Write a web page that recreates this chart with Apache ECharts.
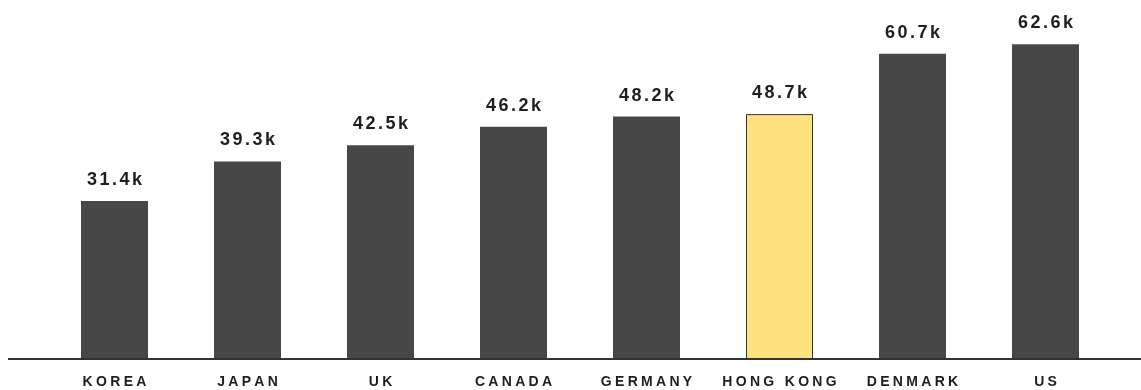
<!DOCTYPE html>
<html>
<head>
<meta charset="utf-8">
<script src="https://cdn.jsdelivr.net/npm/echarts@6/dist/echarts.min.js"></script>
<style>html,body{margin:0;padding:0;background:#fff}#c{width:1141px;height:390px}</style>
</head>
<body>
<div id="c"></div>
<script>
const categories = ['KOREA','JAPAN','UK','CANADA','GERMANY','HONG KONG','DENMARK','US'];
const values = [31.4, 39.3, 42.5, 46.2, 48.2, 48.7, 60.7, 62.6];
const highlight = 'HONG KONG';

function spaced(str, ctag, stag) {
  return str.split('').map(ch => '{' + ctag + '|' + ch + '}').join('{' + stag + '| }');
}

const chart = echarts.init(document.getElementById('c'), null, {renderer: 'canvas'});
const font = '"Liberation Sans", Arial, Helvetica, sans-serif';
chart.setOption({
  animation: false,
  grid: {left: 48, right: 29, top: 7, bottom: 31},
  xAxis: {
    type: 'category',
    data: categories,
    axisLine: {show: false},
    axisTick: {show: false},
    axisLabel: {
      interval: 0,
      margin: 16,
      formatter: v => spaced(v, 'c', 's'),
      rich: {
        c: {fontSize: 14, fontWeight: 'bold', color: '#1e1e1e', fontFamily: font},
        s: {fontSize: 14, width: 3.3, fontFamily: font}
      }
    }
  },
  yAxis: {type: 'value', min: 0, max: 70, show: false, splitLine: {show: false}},
  series: [{
    type: 'bar',
    barWidth: 67,
    data: values.map((v, i) => ({
      value: v,
      itemStyle: categories[i] === highlight
        ? {color: '#FEE27F', borderColor: '#333', borderWidth: 1}
        : {color: '#474748'}
    })),
    label: {
      show: true,
      position: 'top',
      distance: 12,
      formatter: p => spaced(p.value.toFixed(1) + 'k', 'c', 's'),
      rich: {
        c: {fontSize: 18, fontWeight: 'bold', color: '#1e1e1e', fontFamily: font},
        s: {fontSize: 18, width: 2.5, fontFamily: font}
      }
    }
  }]
});
const y0 = chart.convertToPixel({yAxisIndex: 0}, 0);
chart.setOption({
  graphic: [{
    type: 'line',
    shape: {x1: 8, y1: y0, x2: 1141, y2: y0},
    style: {stroke: '#333', lineWidth: 2},
    z: 10
  }]
});
</script>
</body>
</html>
